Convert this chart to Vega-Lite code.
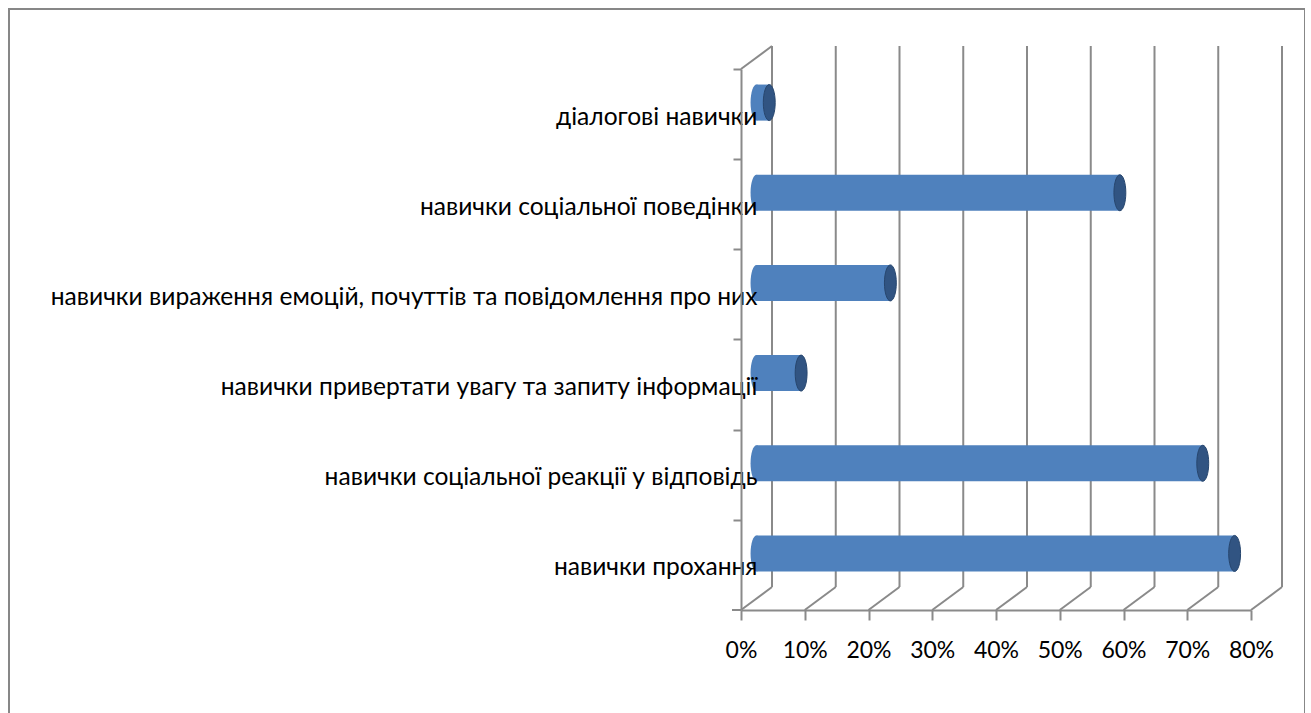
{
  "$schema": "https://vega.github.io/schema/vega-lite/v6.json",
  "width": 1296,
  "height": 720,
  "autosize": {"type": "none"},
  "padding": {"left": 9, "top": 9, "right": 0, "bottom": 0},
  "background": "#ffffff",
  "config": {
    "view": {"stroke": "#878787", "strokeWidth": 2},
    "font": "Lato",
    "axis": {"grid": false}
  },
  "datasets": {
    "skills": [
      {"skill": "діалогові навички", "share": 0.02},
      {"skill": "навички соціальної поведінки", "share": 0.57},
      {"skill": "навички вираження емоцій, почуттів та повідомлення про них", "share": 0.21},
      {"skill": "навички привертати увагу та запиту інформації", "share": 0.07},
      {"skill": "навички соціальної реакції у відповідь", "share": 0.70},
      {"skill": "навички прохання", "share": 0.75}
    ],
    "ticks": [
      {"t": 0}, {"t": 0.1}, {"t": 0.2}, {"t": 0.3}, {"t": 0.4},
      {"t": 0.5}, {"t": 0.6}, {"t": 0.7}, {"t": 0.8}
    ]
  },
  "layer": [
    {
      "data": {"name": "ticks"},
      "mark": {"type": "rule", "color": "#8a8a8a", "strokeWidth": 2, "xOffset": 31, "yOffset": -23, "y2Offset": -23},
      "encoding": {
        "x": {"field": "t", "type": "quantitative", "scale": {"domain": [0, 0.8], "range": [732, 1242]},
          "axis": {
            "orient": "bottom", "offset": -119, "values": [0, 0.1, 0.2, 0.3, 0.4, 0.5, 0.6, 0.7, 0.8],
            "format": ".0%", "title": null, "grid": false,
            "labelOverlap": false, "labelFlush": false,
            "labelFont": "Lato", "labelFontSize": 23, "labelColor": "#000000", "labelPadding": 19,
            "tickSize": 10, "tickColor": "#8a8a8a", "tickWidth": 2,
            "domainColor": "#8a8a8a", "domainWidth": 2
          }
        },
        "y": {"datum": 0, "type": "quantitative", "scale": {"domain": [0, 1], "range": [601, 60], "nice": false, "zero": false}, "axis": null},
        "y2": {"datum": 1}
      }
    },
    {
      "data": {"name": "ticks"},
      "mark": {"type": "rule", "color": "#8a8a8a", "strokeWidth": 2, "x2Offset": 31, "y2Offset": -23},
      "encoding": {
        "x": {"field": "t", "type": "quantitative"},
        "x2": {"field": "t"},
        "y": {"datum": 0, "type": "quantitative", "scale": {"domain": [0, 1], "range": [601, 60], "nice": false, "zero": false}, "axis": null},
        "y2": {"datum": 0}
      }
    },
    {
      "data": {"name": "ticks"},
      "transform": [{"filter": "datum.t === 0"}],
      "mark": {"type": "rule", "color": "#8a8a8a", "strokeWidth": 2, "x2Offset": 31, "y2Offset": -23},
      "encoding": {
        "x": {"field": "t", "type": "quantitative"},
        "x2": {"field": "t"},
        "y": {"datum": 1, "type": "quantitative", "scale": {"domain": [0, 1], "range": [601, 60], "nice": false, "zero": false}, "axis": null},
        "y2": {"datum": 1}
      }
    },
    {
      "data": {"name": "ticks"},
      "transform": [{"filter": "datum.t === 0"}],
      "mark": {"type": "rule", "color": "#8a8a8a", "strokeWidth": 2, "x2Offset": -9},
      "encoding": {
        "x": {"field": "t", "type": "quantitative"},
        "x2": {"field": "t"},
        "y": {"datum": 0, "type": "quantitative", "scale": {"domain": [0, 1], "range": [601, 60], "nice": false, "zero": false}, "axis": null}
      }
    },
    {
      "data": {"name": "skills"},
      "mark": {
        "type": "point", "filled": true, "opacity": 1, "color": "#4f81bd", "strokeWidth": 0,
        "shape": "M0,-1 A0.33,1 0 1,1 0,1 A0.33,1 0 1,1 0,-1 Z",
        "size": 1296, "xOffset": 15.5, "yOffset": -11.5
      },
      "encoding": {
        "x": {"datum": 0, "type": "quantitative"},
        "y": {"field": "skill", "type": "nominal", "sort": null,
          "scale": {"range": [60, 601], "paddingInner": 0.6, "paddingOuter": 0.3}, "axis": null}
      }
    },
    {
      "data": {"name": "skills"},
      "mark": {"type": "bar", "color": "#4f81bd", "xOffset": 15.5, "x2Offset": 15.5, "yOffset": -11.5},
      "encoding": {
        "x": {"field": "share", "type": "quantitative"},
        "x2": {"datum": 0},
        "y": {"field": "skill", "type": "nominal", "sort": null,
          "scale": {"range": [60, 601], "paddingInner": 0.6, "paddingOuter": 0.3},
          "axis": {
            "orient": "left", "offset": -732, "title": null, "zindex": 1,
            "bandPosition": 0, "tickOffset": -27.05,
            "tickSize": 8, "tickColor": "#8a8a8a", "tickWidth": 2,
            "domainColor": "#8a8a8a", "domainWidth": 2,
            "labelFont": "Lato", "labelFontSize": 24.6, "labelColor": "#000000",
            "labelPadding": -24, "labelLimit": 1000, "labelOffset": 30
          }
        }
      }
    },
    {
      "data": {"name": "skills"},
      "mark": {
        "type": "point", "filled": true, "opacity": 1, "color": "#315482",
        "stroke": "#27466e", "strokeWidth": 1,
        "shape": "M0,-1 A0.33,1 0 1,1 0,1 A0.33,1 0 1,1 0,-1 Z",
        "size": 1296, "xOffset": 15.5, "yOffset": -11.5
      },
      "encoding": {
        "x": {"field": "share", "type": "quantitative"},
        "y": {"field": "skill", "type": "nominal", "sort": null,
          "scale": {"range": [60, 601], "paddingInner": 0.6, "paddingOuter": 0.3}, "axis": null}
      }
    }
  ],
  "resolve": {"scale": {"y": "independent"}}
}
